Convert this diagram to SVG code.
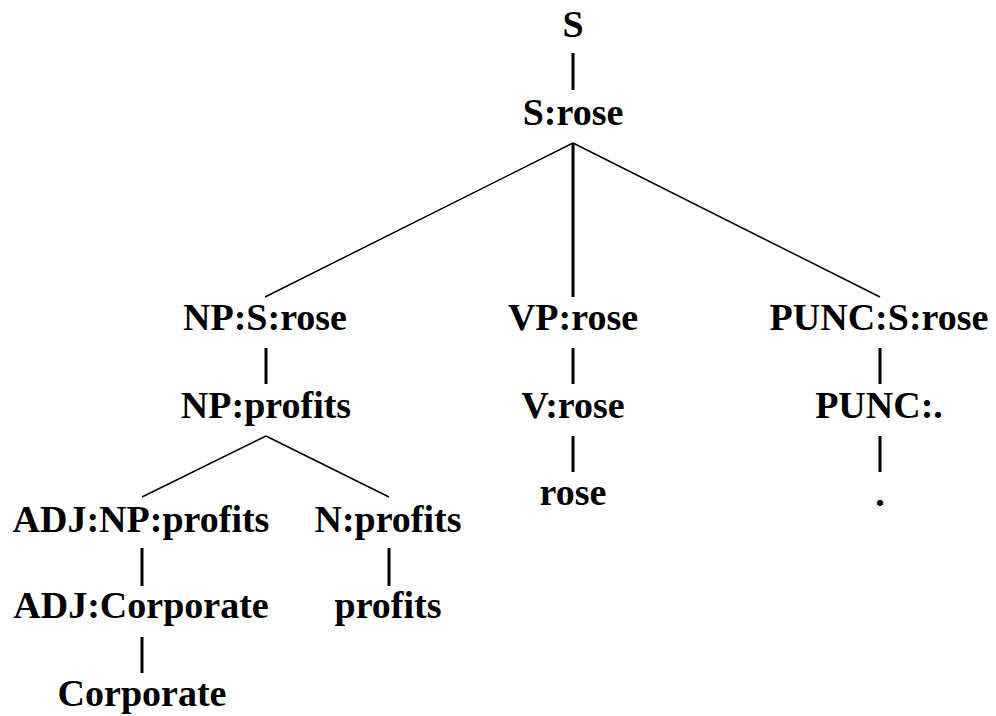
<svg xmlns="http://www.w3.org/2000/svg" width="996" height="716" viewBox="0 0 996 716">
<style>
text{font-family:"Liberation Serif","Times New Roman",serif;font-weight:bold;font-size:38px;text-anchor:middle;fill:#000}
.v{stroke:#000;stroke-width:3;fill:none}
.d{stroke:#000;stroke-width:1.5;fill:none}
</style>
<rect width="996" height="716" fill="#fff"/>
<g id="connectors">
<line class="v" x1="573" y1="53" x2="573" y2="90"/>
<line class="d" x1="573" y1="143" x2="265" y2="297"/>
<line class="v" x1="573" y1="143" x2="573" y2="297"/>
<line class="d" x1="573" y1="143" x2="880" y2="297"/>
<line class="v" x1="266" y1="348" x2="266" y2="384"/>
<line class="d" x1="266" y1="436" x2="142" y2="497"/>
<line class="d" x1="266" y1="436" x2="389" y2="497"/>
<line class="v" x1="142" y1="548" x2="142" y2="586"/>
<line class="v" x1="142" y1="637" x2="142" y2="673"/>
<line class="v" x1="389" y1="548" x2="389" y2="586"/>
<line class="v" x1="573" y1="348" x2="573" y2="384"/>
<line class="v" x1="573" y1="436" x2="573" y2="472"/>
<line class="v" x1="880" y1="348" x2="880" y2="384"/>
<line class="v" x1="880" y1="436" x2="880" y2="472"/>
</g>
<g id="n-S"><text x="573" y="37">S</text></g>
<g id="n-Srose"><text x="573" y="125">S:rose</text></g>
<g id="n-NPSrose"><text x="265" y="330">NP:S:rose</text></g>
<g id="n-NPprofits"><text x="266" y="418">NP:profits</text></g>
<g id="n-ADJNPprofits"><text x="141" y="532">ADJ:NP:profits</text></g>
<g id="n-ADJCorporate"><text x="141" y="618">ADJ:Corporate</text></g>
<g id="n-Corporate"><text x="142" y="706">Corporate</text></g>
<g id="n-Nprofits"><text x="388" y="532">N:profits</text></g>
<g id="n-profits"><text x="388" y="618">profits</text></g>
<g id="n-VProse"><text x="573" y="330">VP:rose</text></g>
<g id="n-Vrose"><text x="573" y="418">V:rose</text></g>
<g id="n-rose"><text x="573" y="505">rose</text></g>
<g id="n-PUNCSrose"><text x="879" y="330">PUNC:S:rose</text></g>
<g id="n-PUNCdot"><text x="879" y="418">PUNC:.</text></g>
<g id="n-dot"><text x="880" y="506">.</text></g>
</svg>
